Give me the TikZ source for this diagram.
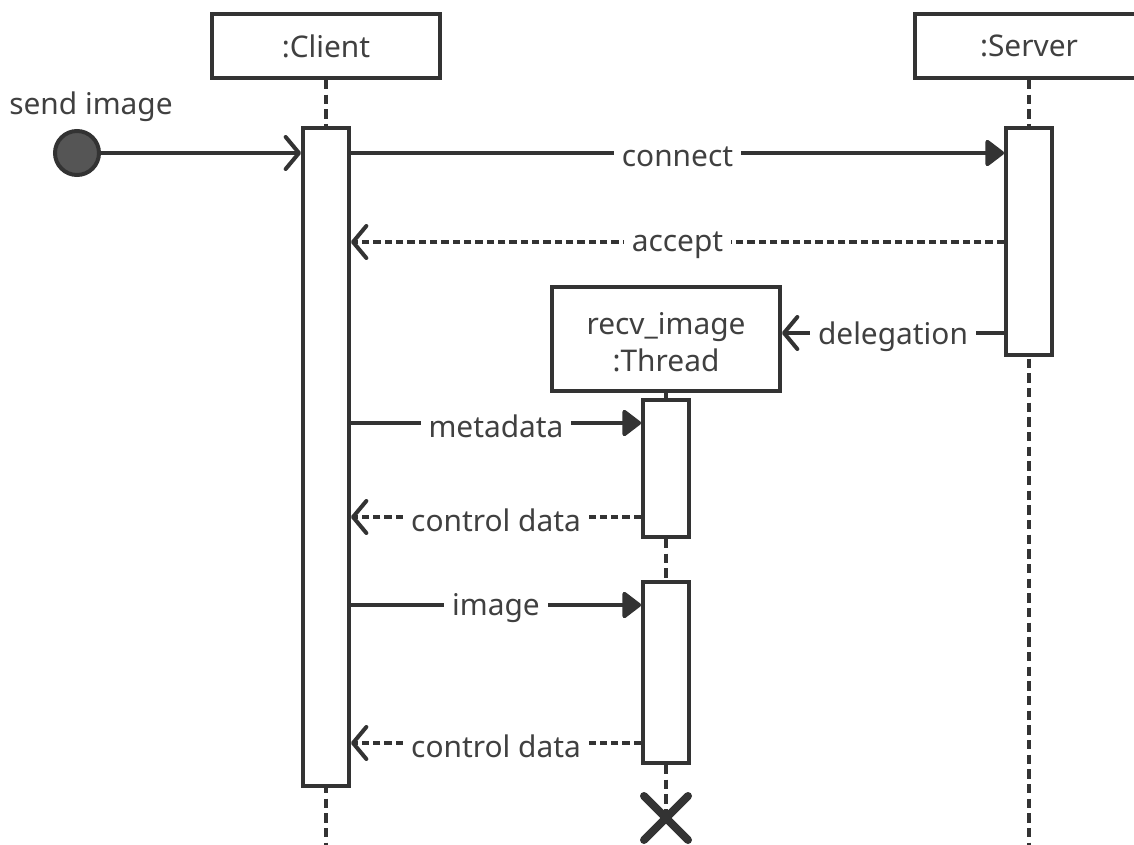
\documentclass[tikz,border=0pt]{standalone}
\usepackage{fontspec}
\setmainfont{Noto Sans}
\usetikzlibrary{arrows.meta}
\definecolor{ink}{HTML}{333333}
\definecolor{txt}{HTML}{404040}
\definecolor{dot}{HTML}{555555}
\tikzset{
  obj/.style={draw=ink, line width=3pt, fill=white, minimum width=171pt, text=txt, font=\fontsize{22.4}{28}\selectfont, align=center, inner sep=0pt},
  act/.style={draw=ink, line width=3pt, fill=white, minimum width=34.5pt, inner sep=0pt},
  life/.style={draw=ink, line width=3pt, dash pattern=on 7pt off 4pt},
  call/.style={draw=ink, line width=3pt, -{Triangle[length=15pt,width=22pt,round]}},
  reply/.style={draw=ink, line width=3pt, dash pattern=on 5.5pt off 3pt, -{Straight Barb[length=10pt,width=24pt,round]}},
  found/.style={draw=ink, line width=3pt, -{Straight Barb[length=10pt,width=24pt,round]}},
  lbl/.style={fill=white, text=txt, font=\fontsize{22.4}{26}\selectfont, inner xsep=6pt, inner ysep=2pt, yshift=-2.5pt},
}
\begin{document}
\begin{tikzpicture}[x=0.75pt,y=-0.75pt]
\useasboundingbox (0,0) rectangle (1134,845);
\clip (0,0) rectangle (1134,845);

% lifeline heads
\node[obj, minimum height=48pt] (client) at (326,46) {\raisebox{-2pt}{:Client}};
\node[obj, minimum height=48pt] (server) at (1029,46) {\raisebox{-2pt}{:Server}};

% lifelines
\coordinate (cend) at (326,845);
\coordinate (send) at (1029,845);
\draw[life] (client.south) -- (cend);
\draw[life] (server.south) -- (send);

% activations of client and server
\node[act, minimum height=493.5pt] (ca) at (326,457) {};
\node[act, minimum height=170.25pt] (sa) at (1029,241.5) {};

% thread object and its activations
\node[obj, minimum height=78pt] (thread) at (666,339) {};
\node[text=txt, font=\fontsize{22.4}{28}\selectfont, align=center, inner sep=0pt] (threadtxt) at ([yshift=-2.5pt]thread.center) {recv\_image\\:Thread};
\node[act, minimum height=102.75pt] (ta1) at (666,468.5) {};
\node[act, minimum height=135.75pt] (ta2) at (666,672.5) {};
\draw[ink, line width=3pt] (thread.south) -- (ta1.north);
\draw[life] (ta1.south) -- (ta2.north);
\coordinate (xmark) at (666,818);
\draw[life] (ta2.south) -- (xmark);
\draw[ink, line width=6pt, line cap=round] ([shift={(-22,-22)}]xmark) -- ([shift={(22,22)}]xmark)
  ([shift={(-22,22)}]xmark) -- ([shift={(22,-22)}]xmark);

% found message
\node[circle, draw=ink, line width=3pt, fill=dot, minimum size=33pt, inner sep=0pt] (start) at (77,153) {};
\node[text=txt, font=\fontsize{22.4}{26}\selectfont] (sendlbl) at (91,107) {send image};
\draw[found] (start.east) -- (ca.west |- start.east);

% messages
\draw[call] (ca.east |- 0,153) -- node[lbl] (m1) {connect} (sa.west |- 0,153);
\draw[reply] (sa.west |- 0,242) -- node[lbl] (m2) {accept} (ca.east |- 0,242);
\draw[found] (sa.west |- 0,333) -- node[lbl] (m3) {delegation} (thread.east |- 0,333);
\draw[call] (ca.east |- 0,423) -- node[lbl] (m4) {metadata} (ta1.west |- 0,423);
\draw[reply] (ta1.west |- 0,517) -- node[lbl] (m5) {control data} (ca.east |- 0,517);
\draw[call] (ca.east |- 0,605) -- node[lbl] (m6) {image} (ta2.west |- 0,605);
\draw[reply] (ta2.west |- 0,743) -- node[lbl] (m7) {control data} (ca.east |- 0,743);
\end{tikzpicture}
\end{document}
